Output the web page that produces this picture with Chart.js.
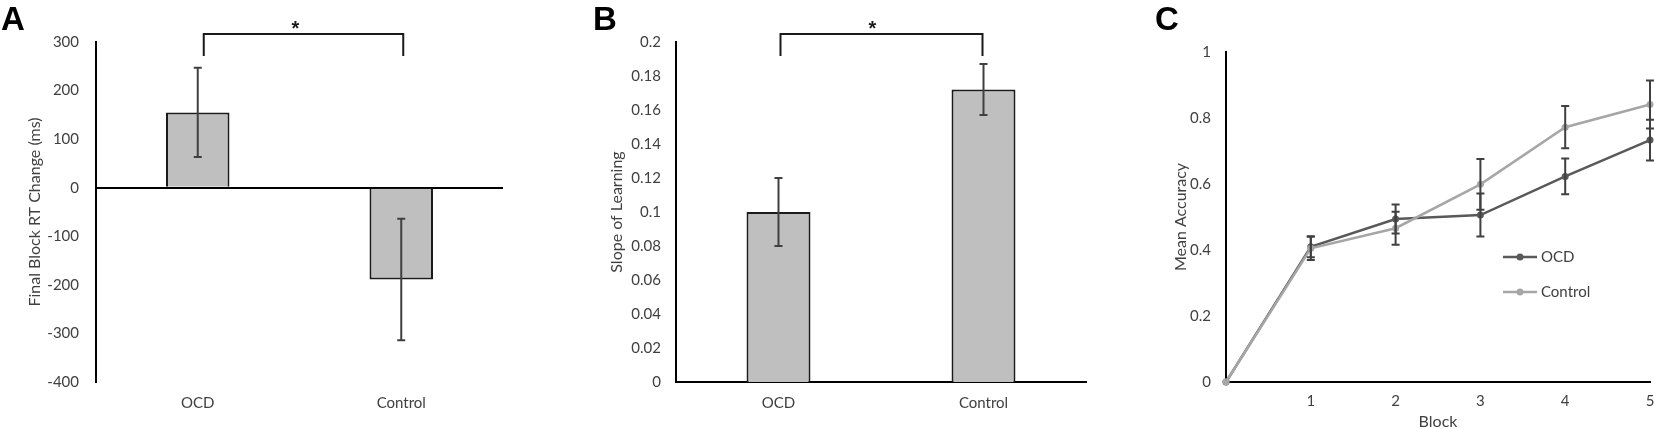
<!DOCTYPE html>
<html>
<head>
<meta charset="utf-8">
<script src="https://cdn.jsdelivr.net/npm/chart.js@4.4.1/dist/chart.umd.min.js"></script>
<style>
    html, body { margin: 0; padding: 0; background: #fff; }
    #wrap { position: relative; width: 1654px; height: 429px; overflow: hidden; }
    #wrap canvas { position: absolute; top: 0; }
    .tag { position: absolute; top: 2px; font: bold 33px "Liberation Sans", Arial, sans-serif; line-height: 1; color: #000; }
</style>
</head>
<body>
<div id="wrap">
    <canvas id="chart-a" width="540" height="429" style="left:0"></canvas>
    <canvas id="chart-b" width="560" height="429" style="left:540px"></canvas>
    <canvas id="chart-c" width="554" height="429" style="left:1100px"></canvas>
    <div class="tag" style="left:1px">A</div>
    <div class="tag" style="left:593px">B</div>
    <div class="tag" style="left:1155px">C</div>
</div>
<script>
// data
const groups = ['OCD', 'Control'];
const rtChange = [155, -189];          // panel A, ms
const rtChangeErr = [92, 125];
const slope = [0.100, 0.172];          // panel B
const slopeErr = [0.020, 0.015];
const blocks = [0, 1, 2, 3, 4, 5];     // panel C
const accOCD = [0, 0.410, 0.494, 0.506, 0.623, 0.733];
const accOCDErr = [0, 0.032, 0.044, 0.065, 0.054, 0.062];
const accControl = [0, 0.405, 0.466, 0.599, 0.772, 0.841];
const accControlErr = [0, 0.035, 0.050, 0.077, 0.064, 0.073];

const FONT = 'Lato, "Open Sans", sans-serif';
const TEXT = '#404040';
const FS = 15;      // tick labels
const TFS = 16;     // axis titles

// fixes the width (or height) an axis takes, so the plot areas line up with the figure
function fixAxis(size, horizontal) {
    return function (scale) {
        if (horizontal) scale.height = size; else scale.width = size;
        scale.paddingTop = scale.paddingBottom = scale.paddingLeft = scale.paddingRight = 0;
    };
}

function cleanNum(v) {
    return String(+Number(v).toFixed(3));
}

// vertical error bars with caps, taken from dataset.errors
const errorBarPlugin = {
    id: 'errorBars',
    afterDatasetsDraw(chart, args, opts) {
        const { ctx } = chart;
        const y = chart.scales.y;
        ctx.save();
        ctx.strokeStyle = opts.color;
        ctx.lineWidth = opts.width;
        chart.data.datasets.forEach((ds, i) => {
            if (!ds.errors) return;
            const meta = chart.getDatasetMeta(i);
            meta.data.forEach((el, j) => {
                const err = ds.errors[j];
                if (!err) return;
                const raw = ds.data[j];
                const v = typeof raw === 'object' ? raw.y : raw;
                const top = y.getPixelForValue(v + err);
                const bot = y.getPixelForValue(v - err);
                ctx.beginPath();
                ctx.moveTo(el.x, top); ctx.lineTo(el.x, bot);
                ctx.moveTo(el.x - opts.cap, top); ctx.lineTo(el.x + opts.cap, top);
                ctx.moveTo(el.x - opts.cap, bot); ctx.lineTo(el.x + opts.cap, bot);
                ctx.stroke();
            });
        });
        ctx.restore();
    }
};

// significance bracket with a star above the plot
const bracketPlugin = {
    id: 'sigBracket',
    afterDraw(chart, args, opts) {
        if (!opts.show) return;
        const { ctx, chartArea } = chart;
        const x = chart.scales.x;
        const x1 = x.getPixelForValue(0) + opts.shift[0];
        const x2 = x.getPixelForValue(1) + opts.shift[1];
        const top = chartArea.top + opts.rise;
        const foot = chartArea.top + opts.drop;
        ctx.save();
        ctx.strokeStyle = '#1a1a1a';
        ctx.lineWidth = 2;
        ctx.beginPath();
        ctx.moveTo(x1, foot); ctx.lineTo(x1, top); ctx.lineTo(x2, top); ctx.lineTo(x2, foot);
        ctx.stroke();
        ctx.fillStyle = '#1a1a1a';
        ctx.font = 'bold 20px "Liberation Sans", Arial, sans-serif';
        ctx.textAlign = 'center';
        ctx.textBaseline = 'alphabetic';
        ctx.fillText(opts.label, (x1 + x2) / 2 + opts.labelShift, top + 1);
        ctx.restore();
    }
};

// line + marker legend inside the plot of panel C
const lineLegendPlugin = {
    id: 'lineLegend',
    afterDraw(chart, args, opts) {
        if (!opts.show) return;
        const { ctx, chartArea } = chart;
        ctx.save();
        chart.data.datasets.forEach((ds, i) => {
            const yy = chartArea.top + opts.rows[i];
            const x0 = chartArea.left + opts.x;
            ctx.strokeStyle = ds.borderColor;
            ctx.lineWidth = ds.borderWidth;
            ctx.beginPath();
            ctx.moveTo(x0, yy); ctx.lineTo(x0 + opts.len, yy);
            ctx.stroke();
            ctx.fillStyle = ds.borderColor;
            ctx.beginPath();
            ctx.arc(x0 + opts.len / 2, yy, ds.pointRadius, 0, Math.PI * 2);
            ctx.fill();
            ctx.fillStyle = TEXT;
            ctx.font = FS + 'px ' + FONT;
            ctx.textAlign = 'left';
            ctx.textBaseline = 'middle';
            ctx.fillText(ds.label, x0 + opts.len + 4, yy);
        });
        ctx.restore();
    }
};

Chart.defaults.font.family = FONT;
Chart.defaults.font.size = FS;
Chart.defaults.color = TEXT;

function barChart(id, values, errors, yOpts, titleText, titlePad, yWidth, rightPad, xBorder, bracket) {
    const ctx = document.getElementById(id).getContext('2d');
    return new Chart(ctx, {
        type: 'bar',
        data: {
            labels: groups,
            datasets: [{
                data: values,
                errors: errors,
                backgroundColor: '#bfbfbf',
                borderColor: '#1a1a1a',
                borderWidth: 2,
                barPercentage: 0.312,
                categoryPercentage: 1
            }]
        },
        options: {
            responsive: false,
            animation: false,
            events: [],
            layout: { padding: { left: 0, top: 42, right: rightPad, bottom: 0 } },
            plugins: {
                legend: { display: false },
                tooltip: { enabled: false },
                errorBars: { color: '#404040', width: 2, cap: 4 },
                sigBracket: bracket
            },
            scales: {
                x: {
                    grid: { display: false, drawTicks: false },
                    border: { display: xBorder, color: '#000', width: 2 },
                    ticks: { padding: 12, color: TEXT, font: { size: FS } },
                    afterFit: fixAxis(47, true)
                },
                y: Object.assign({
                    border: { display: true, color: '#000', width: 2 },
                    title: { display: true, text: titleText, color: TEXT, font: { size: TFS }, padding: { top: titlePad, bottom: 0 } },
                    afterFit: fixAxis(yWidth, false)
                }, yOpts)
            }
        },
        plugins: [errorBarPlugin, bracketPlugin]
    });
}

// panel A: zero line drawn as the only visible grid line
barChart('chart-a', rtChange, rtChangeErr, {
    min: -400, max: 300,
    grid: {
        drawTicks: false,
        color: c => c.tick && c.tick.value === 0 ? '#000' : 'rgba(0,0,0,0)',
        lineWidth: 2
    },
    ticks: { padding: 17, color: TEXT, font: { size: FS }, stepSize: 100, callback: cleanNum }
}, 'Final Block RT Change (ms)', 25.4, 96, 37, false,
    { show: true, shift: [6, 2], rise: -8, drop: 14, label: '*', labelShift: -8 });

// panel B
barChart('chart-b', slope, slopeErr, {
    min: 0, max: 0.2,
    grid: { display: false, drawTicks: false },
    ticks: { padding: 15, color: TEXT, font: { size: FS }, stepSize: 0.02, callback: cleanNum }
}, 'Slope of Learning', 67.4, 136, 14, true,
    { show: true, shift: [2, -1], rise: -8, drop: 14, label: '*', labelShift: -9 });

// panel C: accuracy per block
new Chart(document.getElementById('chart-c').getContext('2d'), {
    type: 'line',
    data: {
        datasets: [{
            label: 'OCD',
            data: blocks.map((b, i) => ({ x: b, y: accOCD[i] })),
            errors: accOCDErr,
            borderColor: '#595959',
            backgroundColor: '#595959',
            borderWidth: 2.5,
            pointRadius: 3.5,
            pointBorderWidth: 0,
            tension: 0,
            clip: false,
            order: 1
        }, {
            label: 'Control',
            data: blocks.map((b, i) => ({ x: b, y: accControl[i] })),
            errors: accControlErr,
            borderColor: '#a6a6a6',
            backgroundColor: '#a6a6a6',
            borderWidth: 2.5,
            pointRadius: 3.5,
            pointBorderWidth: 0,
            tension: 0,
            clip: false,
            order: 0
        }]
    },
    options: {
        responsive: false,
        animation: false,
        events: [],
        layout: { padding: { left: 0, top: 52, right: 4, bottom: 0 } },
        plugins: {
            legend: { display: false },
            tooltip: { enabled: false },
            errorBars: { color: '#404040', width: 2, cap: 4 },
            lineLegend: { show: true, x: 277, len: 34, rows: [205, 240] }
        },
        scales: {
            x: {
                type: 'linear',
                min: 0, max: 5,
                grid: { display: false, drawTicks: false },
                border: { display: true, color: '#000', width: 2 },
                ticks: { stepSize: 1, padding: 10, color: TEXT, font: { size: FS }, callback: v => v === 0 ? '' : cleanNum(v) },
                title: { display: true, text: 'Block', color: TEXT, font: { size: TFS }, padding: { top: 0, bottom: -2 } },
                afterFit: fixAxis(47, true)
            },
            y: {
                min: 0, max: 1,
                grid: { display: false, drawTicks: false },
                border: { display: true, color: '#000', width: 2 },
                ticks: { stepSize: 0.2, padding: 15, color: TEXT, font: { size: FS }, callback: cleanNum },
                title: { display: true, text: 'Mean Accuracy', color: TEXT, font: { size: TFS }, padding: { top: 71, bottom: 0 } },
                afterFit: fixAxis(126, false)
            }
        }
    },
    plugins: [errorBarPlugin, lineLegendPlugin]
});
</script>
</body>
</html>
